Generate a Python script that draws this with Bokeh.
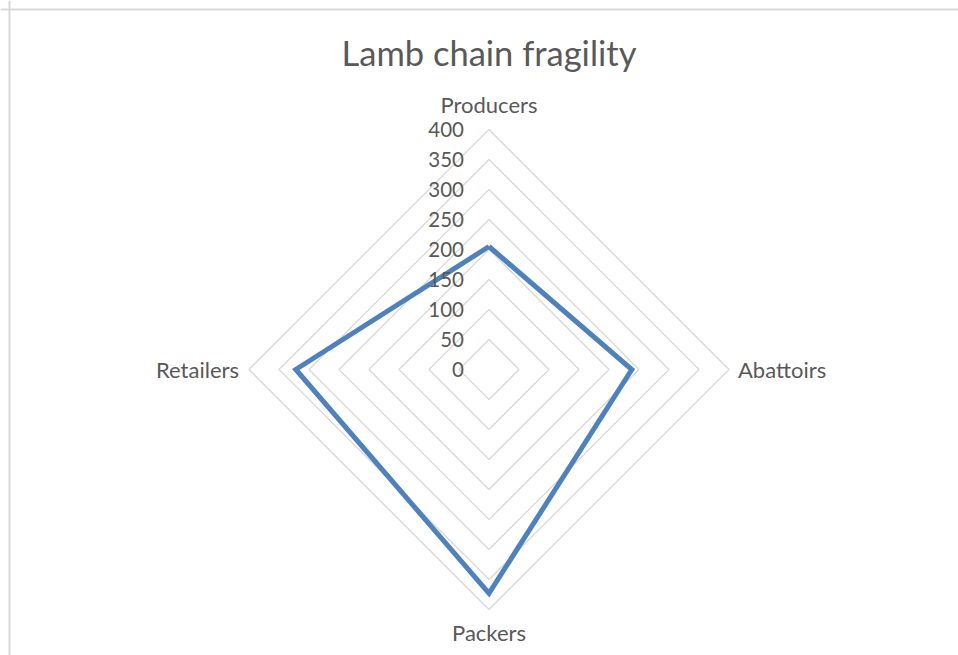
import math
from bokeh.plotting import figure
from bokeh.models import Range1d, ColumnDataSource, Span
from bokeh.core.properties import value
from bokeh.embed import file_html
from bokeh.resources import INLINE

# ---- data ----
title_text = "Lamb chain fragility"
categories = ["Producers", "Abattoirs", "Packers", "Retailers"]
values = [205, 238, 373, 322]
ring_values = [50, 100, 150, 200, 250, 300, 350, 400]
tick_labels = ["0", "50", "100", "150", "200", "250", "300", "350", "400"]
tick_values = [0, 50, 100, 150, 200, 250, 300, 350, 400]
r_max = 400

# ---- layout ----
W, H = 958, 655
CX, CY = 488.5, 369.0      # centre of the radar in canvas pixels
PX = 0.6                   # pixels per value unit
FONT = "Lato"
TXT = "#595959"
GRID = "#D9D9D9"
LINE = "#4F81BD"

p = figure(width=W, height=H, output_backend="svg", toolbar_location=None,
           x_range=Range1d(-CX / PX, (W - CX) / PX),
           y_range=Range1d(-(H - CY) / PX, CY / PX),
           min_border=0, min_border_left=0, min_border_right=0,
           min_border_top=0, min_border_bottom=0)
p.axis.visible = False
p.grid.visible = False
p.outline_line_color = None
p.background_fill_color = "white"
p.border_fill_color = "white"

n = len(categories)
angles = [math.pi / 2 - 2 * math.pi * i / n for i in range(n)]

def pt(r, a):
    return r * math.cos(a), r * math.sin(a)

# grid rings
for rv in ring_values:
    xs, ys = [], []
    for a in angles + [angles[0]]:
        x, y = pt(rv, a)
        xs.append(x); ys.append(y)
    p.line(xs, ys, line_color=GRID, line_width=1.3)

# data polygon
dx, dy = [], []
for v, a in zip(values + [values[0]], angles + [angles[0]]):
    x, y = pt(v, a)
    dx.append(x); dy.append(y)
p.line(dx, dy, line_color=LINE, line_width=5, line_join="miter")

# tick labels
src_t = ColumnDataSource(dict(x=[0] * len(tick_values), y=tick_values, t=tick_labels))
p.text(x="x", y="y", text="t", source=src_t, x_offset=-25, text_align="right",
       text_baseline="middle", text_font=value(FONT), text_font_size="20.5px",
       text_color=TXT)

# category labels
offs = [(0, -25, "center"), (9, 0, "left"), (0, 23, "center"), (-10, 0, "right")]
for c, a, (xo, yo, al) in zip(categories, angles, offs):
    x, y = pt(r_max, a)
    p.text(x=[x], y=[y], text=[c], x_offset=xo, y_offset=yo, text_align=al,
           text_baseline="middle", text_font=value(FONT), text_font_size="22px",
           text_color=TXT)

# title
p.text(x=[0], y=[(CY - 52) / PX], text=[title_text], text_align="center",
       text_baseline="middle", text_font=value(FONT), text_font_size="34.5px",
       text_color=TXT)

# chart border (left and top edges visible)
p.add_layout(Span(location=p.x_range.start + 9 / PX, dimension="height",
                  line_color=GRID, line_width=2))
p.add_layout(Span(location=p.y_range.end - 9 / PX, dimension="width",
                  line_color=GRID, line_width=2))

open("out.html", "w").write(file_html(p, INLINE))
